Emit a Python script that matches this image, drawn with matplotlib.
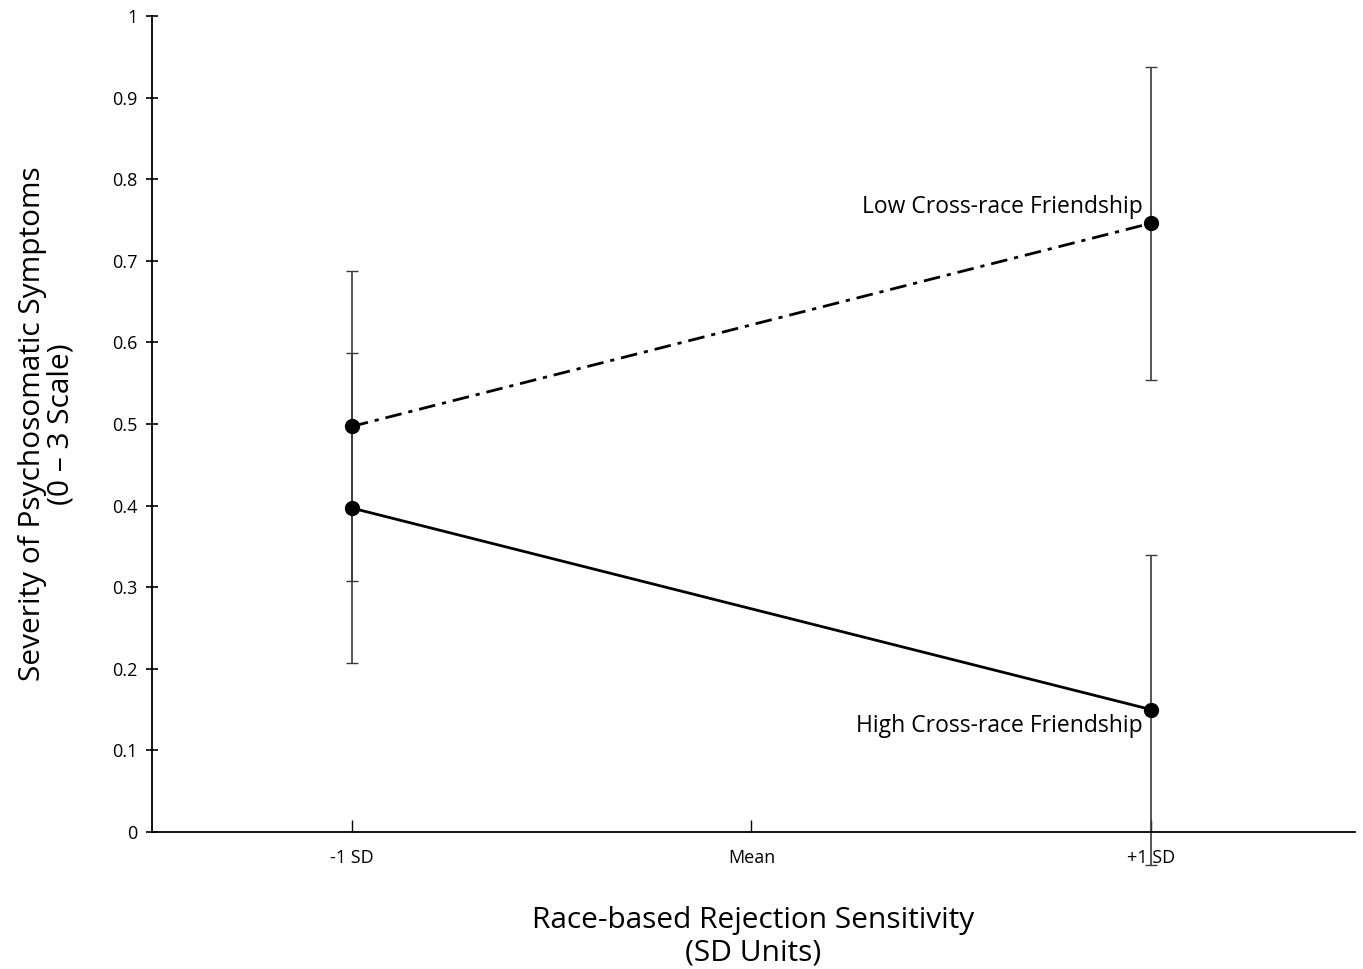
import matplotlib
matplotlib.use('Agg')
import matplotlib.pyplot as plt

# x positions: -1 SD, Mean, +1 SD
x_labels = ['-1 SD', 'Mean', '+1 SD']
x_pos = [-1, 1]

low_vals = [0.497, 0.746]
low_err = [0.19, 0.192]
high_vals = [0.397, 0.150]
high_err = [0.19, 0.19]

plt.rcParams['font.family'] = ['Open Sans', 'DejaVu Sans']

fig = plt.figure(figsize=(13.63, 9.69), dpi=100)
ax = fig.add_axes([0.1115, 0.1414, 0.8825, 0.8421])

for vals, err in [(low_vals, low_err), (high_vals, high_err)]:
    eb = ax.errorbar(x_pos, vals, yerr=err, fmt='none', ecolor='#3a3a3a',
                     elinewidth=1.2, capsize=4.5, capthick=1.0, zorder=2)
    for art in eb.lines[1] + eb.lines[2]:
        art.set_clip_on(False)

ax.plot(x_pos, low_vals, color='black', lw=2.0, dashes=(6, 2.5, 1.5, 2.5),
        marker='o', ms=10, zorder=3)
ax.plot(x_pos, high_vals, color='black', lw=2.0, marker='o', ms=10, zorder=3)

ax.text(0.98, low_vals[1] + 0.02, 'Low Cross-race Friendship', ha='right',
        va='center', fontsize=16.5)
ax.text(0.98, high_vals[1] - 0.02, 'High Cross-race Friendship', ha='right',
        va='center', fontsize=16.5)

ax.set_xlim(-1.5, 1.51)
ax.set_ylim(0, 1)
ax.set_xticks([-1, 0, 1])
ax.set_xticklabels(x_labels, fontsize=13)
ax.set_yticks([i / 10 for i in range(11)])
ax.set_yticklabels(['0'] + [f'0.{i}' for i in range(1, 10)] + ['1'], fontsize=13)
ax.tick_params(axis='y', direction='inout', length=9, width=1.2, pad=6)
ax.tick_params(axis='x', direction='in', length=9, width=1.0, pad=12)

for s in ['top', 'right']:
    ax.spines[s].set_visible(False)
ax.spines['left'].set_linewidth(1.3)
ax.spines['bottom'].set_linewidth(1.3)

ax.set_xlabel('Race-based Rejection Sensitivity\n(SD Units)', fontsize=21.5,
              labelpad=28, linespacing=1.2)
ax.set_ylabel('Severity of Psychosomatic Symptoms\n(0 \u2013 3 Scale)', fontsize=21.5,
              labelpad=26, linespacing=1.0)

fig.savefig('out.png', dpi=100)
